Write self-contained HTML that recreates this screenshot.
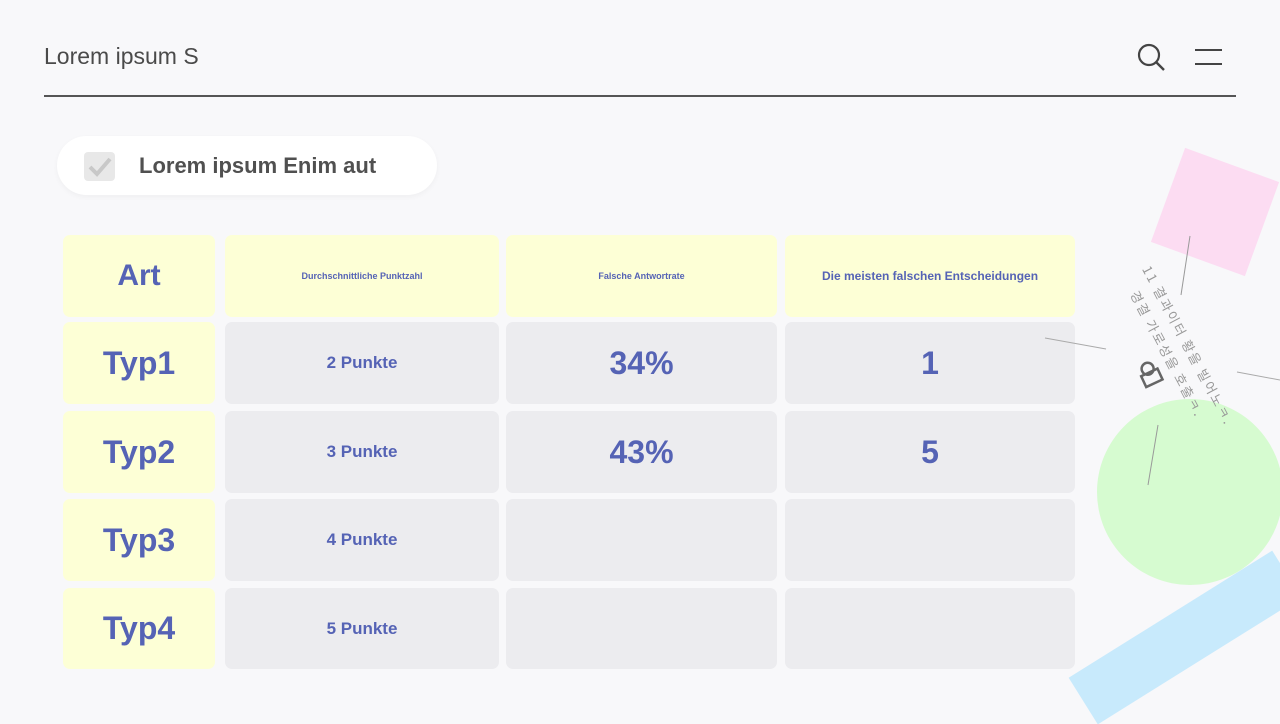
<!DOCTYPE html>
<html><head><meta charset="utf-8"><style>
*{margin:0;padding:0;box-sizing:border-box}
body{width:1280px;height:720px;background:#f8f8fa;font-family:"Liberation Sans","Noto Sans CJK KR",sans-serif;position:relative;overflow:hidden}
.abs{position:absolute}
.title{left:44px;top:43px;font-size:23px;color:#4a4a4a}
.hr{left:44px;top:95px;width:1192px;height:2px;background:#555}
.pill{left:57px;top:136px;width:380px;height:59px;background:#fff;border-radius:30px;box-shadow:0 2px 6px rgba(0,0,0,0.04)}
.cb{left:84px;top:152px;width:31px;height:29px;background:#e8e8e8;border-radius:4px}
.pt{left:139px;top:153px;font-size:22px;font-weight:bold;color:#505050}
.c{position:absolute;border-radius:7px;display:flex;align-items:center;justify-content:center;color:#5563b5;font-weight:bold;text-align:center}
.y{background:#fdffd6}
.g{background:#ececef}
.kt{position:absolute;transform-origin:0 0;font-size:13px;color:#999;white-space:nowrap;font-family:"Noto Sans CJK KR",sans-serif;letter-spacing:2px}
</style></head><body>
<div class="abs title">Lorem ipsum S</div>
<svg class="abs" style="left:1136px;top:42px" width="32" height="32"><circle cx="13" cy="13" r="10" fill="none" stroke="#444" stroke-width="2.2"/><line x1="20.5" y1="20.5" x2="28" y2="28" stroke="#444" stroke-width="2.4"/></svg>
<div class="abs" style="left:1195px;top:49px;width:27px;height:2px;background:#444"></div>
<div class="abs" style="left:1195px;top:63px;width:27px;height:2px;background:#444"></div>
<div class="abs hr"></div>
<div class="abs pill"></div>
<div class="abs cb"></div>
<svg class="abs" style="left:86px;top:155px" width="28" height="24"><polyline points="4,12 11,19 24,4" fill="none" stroke="#c8c8c8" stroke-width="4"/></svg>
<div class="abs pt">Lorem ipsum Enim aut</div>

<div class="abs" style="left:1165px;top:162px;width:100px;height:100px;background:#fcdcf2;transform:rotate(20deg)"></div>
<div class="abs" style="left:1097px;top:399px;width:186px;height:186px;border-radius:50%;background:#d6fbd0"></div>
<div class="abs" style="left:1065px;top:610px;width:240px;height:55px;background:#c8eafc;transform:rotate(-32deg)"></div>

<div class="c y" style="left:63px;top:235px;width:152px;height:82px;font-size:30px">Art</div>
<div class="c y" style="left:225px;top:235px;width:274px;height:82px;font-size:9px">Durchschnittliche Punktzahl</div>
<div class="c y" style="left:506px;top:235px;width:271px;height:82px;font-size:9px">Falsche Antwortrate</div>
<div class="c y" style="left:785px;top:235px;width:290px;height:82px;font-size:12px">Die meisten falschen Entscheidungen</div>

<div class="c y" style="left:63px;top:322px;width:152px;height:82px;font-size:32px">Typ1</div>
<div class="c g" style="left:225px;top:322px;width:274px;height:82px;font-size:17px">2 Punkte</div>
<div class="c g" style="left:506px;top:322px;width:271px;height:82px;font-size:32px">34%</div>
<div class="c g" style="left:785px;top:322px;width:290px;height:82px;font-size:32px">1</div>

<div class="c y" style="left:63px;top:411px;width:152px;height:82px;font-size:32px">Typ2</div>
<div class="c g" style="left:225px;top:411px;width:274px;height:82px;font-size:17px">3 Punkte</div>
<div class="c g" style="left:506px;top:411px;width:271px;height:82px;font-size:32px">43%</div>
<div class="c g" style="left:785px;top:411px;width:290px;height:82px;font-size:32px">5</div>

<div class="c y" style="left:63px;top:499px;width:152px;height:82px;font-size:32px">Typ3</div>
<div class="c g" style="left:225px;top:499px;width:274px;height:82px;font-size:17px">4 Punkte</div>
<div class="c g" style="left:506px;top:499px;width:271px;height:82px"></div>
<div class="c g" style="left:785px;top:499px;width:290px;height:82px"></div>

<div class="c y" style="left:63px;top:588px;width:152px;height:81px;font-size:32px">Typ4</div>
<div class="c g" style="left:225px;top:588px;width:274px;height:81px;font-size:17px">5 Punkte</div>
<div class="c g" style="left:506px;top:588px;width:271px;height:81px"></div>
<div class="c g" style="left:785px;top:588px;width:290px;height:81px"></div>

<svg class="abs" style="left:1040px;top:230px" width="240" height="260">
<line x1="150" y1="6" x2="141" y2="65" stroke="#999" stroke-width="1"/>
<line x1="5" y1="108" x2="66" y2="119" stroke="#aaa" stroke-width="1"/>
<line x1="197" y1="142" x2="240" y2="150" stroke="#aaa" stroke-width="1"/>
<line x1="118" y1="195" x2="108" y2="255" stroke="#999" stroke-width="1"/>
<g transform="translate(111,146) rotate(-25)"><circle cx="0" cy="-8" r="6" fill="none" stroke="#666" stroke-width="2.5"/><rect x="-9" y="-4" width="18" height="12" fill="none" stroke="#666" stroke-width="2.5"/></g>
</svg>
<div class="kt" style="left:1155px;top:262px;transform:rotate(62deg)">11 결과이터 황을 빌어노ㅋ.</div>
<div class="kt" style="left:1143px;top:287px;transform:rotate(62deg)">경결 가로성을 호출ㅋ.</div>
</body></html>
